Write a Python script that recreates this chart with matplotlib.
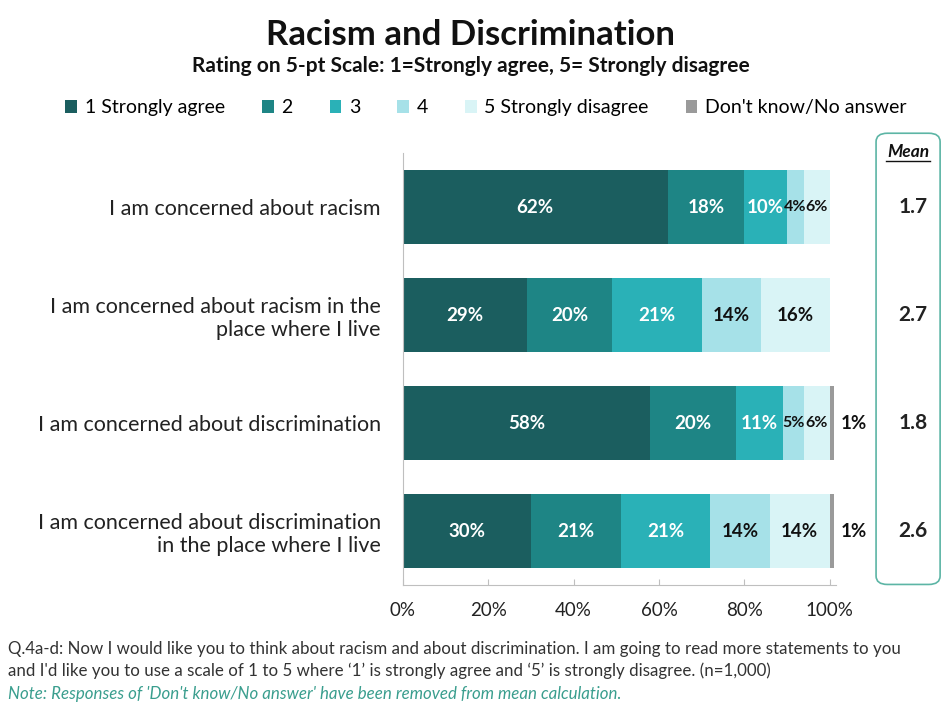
import matplotlib
matplotlib.use("Agg")
import matplotlib.pyplot as plt
from matplotlib.patches import FancyBboxPatch
import numpy as np

plt.rcParams['font.family'] = ['Lato', 'DejaVu Sans']

statements = [
    "I am concerned about racism",
    "I am concerned about racism in the\nplace where I live",
    "I am concerned about discrimination",
    "I am concerned about discrimination\nin the place where I live",
]
series_names = ["1 Strongly agree", "2", "3", "4", "5 Strongly disagree", "Don't know/No answer"]
strongly_agree = [62, 29, 58, 30]
rating_2 = [18, 20, 20, 21]
rating_3 = [10, 21, 11, 21]
rating_4 = [4, 14, 5, 14]
strongly_disagree = [6, 16, 6, 14]
dont_know = [0, 0, 1, 1]
means = [1.7, 2.7, 1.8, 2.6]
x_ticks = [0, 20, 40, 60, 80, 100]
x_tick_labels = ["0%", "20%", "40%", "60%", "80%", "100%"]

colors = ["#1b5e5f", "#1e8585", "#2ab1b7", "#a6e1e8", "#d9f4f6", "#9a9a9a"]
label_colors = ["white", "white", "white", "#111111", "#111111", "#111111"]

fig = plt.figure(figsize=(9.42, 7.05), dpi=100)
ax = fig.add_axes([0.4278, 0.170, 0.4597, 0.613])

series = [strongly_agree, rating_2, rating_3, rating_4, strongly_disagree, dont_know]
y = np.arange(len(statements))
left = np.zeros(len(statements))
handles = []
for i, (vals, name) in enumerate(zip(series, series_names)):
    vals = np.array(vals, dtype=float)
    h = ax.barh(y, vals, left=left, height=0.69, color=colors[i], label=name,
                edgecolor='none')
    handles.append(h)
    for j, v in enumerate(vals):
        if v <= 0:
            continue
        size = 13.5 if v >= 8 else 11.5
        if i == 5:
            ax.text(left[j] + v + 1.5, y[j], f"{int(v)}%", ha='left', va='center',
                    fontsize=13.5, fontweight='bold', color=label_colors[i])
        else:
            ax.text(left[j] + v / 2, y[j], f"{int(v)}%", ha='center', va='center',
                    fontsize=size, fontweight='bold', color=label_colors[i])
    left += vals

ax.set_ylim(len(statements) - 0.5, -0.5)
ax.set_xlim(0, 101.5)
ax.set_yticks(y)
ax.set_yticklabels(statements, fontsize=15.5, color='#222222')
ax.set_xticks(x_ticks)
ax.set_xticklabels(x_tick_labels, fontsize=13.5, color='#222222')
ax.tick_params(axis='y', length=0, pad=16)
ax.tick_params(axis='x', length=4, direction='in', color='#bfbfbf', pad=12)
for s in ['top', 'right']:
    ax.spines[s].set_visible(False)
ax.spines['left'].set_color('#bfbfbf')
ax.spines['bottom'].set_color('#bfbfbf')

# Mean column inside a rounded box
box = FancyBboxPatch((0.930, 0.171), 0.068, 0.640, boxstyle="round,pad=0,rounding_size=0.012",
                     transform=fig.transFigure, facecolor='none', edgecolor='#5cb5a5',
                     linewidth=1.2, clip_on=False)
fig.patches.append(box)
fig.text(0.964, 0.785, "Mean", ha='center', va='center', fontsize=12.5,
         fontweight='bold', fontstyle='italic', color='#111111')
fig.add_artist(plt.Line2D([0.941, 0.987], [0.771, 0.771], color='#111111', linewidth=1.0,
                          transform=fig.transFigure))
for j, m in enumerate(means):
    ax.text(1.178, y[j], f"{m:.1f}", transform=ax.get_yaxis_transform(),
            ha='center', va='center', fontsize=15, fontweight='bold', color='#222222')

# Titles
fig.text(0.5, 0.950, "Racism and Discrimination", ha='center', va='center',
         fontsize=25, fontweight='bold', color='#111111')
fig.text(0.5, 0.906, "Rating on 5-pt Scale: 1=Strongly agree, 5= Strongly disagree",
         ha='center', va='center', fontsize=15, fontweight='bold', color='#111111')

# Legend
fig.legend(handles=handles, labels=series_names, loc='center', bbox_to_anchor=(0.516, 0.847),
           ncol=6, frameon=False, fontsize=14, handlelength=0.6, handleheight=0.6,
           handletextpad=0.4, columnspacing=1.9)

# Footnotes
fig.text(0.008, 0.079, "Q.4a-d: Now I would like you to think about racism and about discrimination. "
         "I am going to read more statements to you", fontsize=12.2, color='#333333', va='center')
fig.text(0.008, 0.048, "and I'd like you to use a scale of 1 to 5 where \u20181\u2019 is strongly agree "
         "and \u20185\u2019 is strongly disagree. (n=1,000)", fontsize=12.2, color='#333333', va='center')
fig.text(0.008, 0.016, "Note: Responses of 'Don't know/No answer' have been removed from mean calculation.",
         fontsize=12.2, color='#3a9e8e', fontstyle='italic', va='center')

fig.savefig("out.png", dpi=100, facecolor='white')
